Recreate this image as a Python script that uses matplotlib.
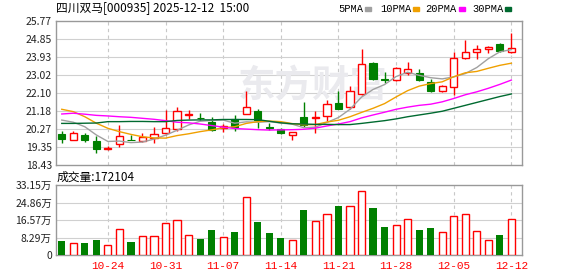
import numpy as np
import matplotlib
matplotlib.use("Agg")
import matplotlib.pyplot as plt

plt.rcParams['font.family'] = ['Noto Sans CJK SC', 'DejaVu Sans']

# --- data ---
title = "四川双马[000935] 2025-12-12  15:00"
date_pos = [4, 9, 14, 19, 24, 29, 34, 39]
date_labels = ["10-24", "10-31", "11-07", "11-14", "11-21", "11-28", "12-05", "12-12"]

opens = [19.99, 19.69, 19.96, 19.64, 19.27, 19.48, 19.70, 19.65, 19.80, 20.08,
         20.25, 21.00, 20.84, 20.64, 20.33, 20.76, 21.01, 21.18, 20.35, 20.25,
         19.94, 20.88, 20.85, 20.91, 21.59, 21.37, 22.03, 23.65, 22.80, 22.76,
         23.14, 23.12, 22.66, 22.20, 22.39, 23.90, 24.21, 24.33, 24.61, 24.17]
closes = [19.77, 20.08, 19.72, 19.26, 19.30, 19.89, 19.68, 19.87, 19.99, 20.30,
          21.16, 21.02, 20.82, 20.21, 20.40, 20.37, 21.37, 20.72, 20.33, 20.04,
          20.10, 20.47, 20.87, 21.52, 21.28, 22.20, 23.58, 22.83, 22.74, 23.36,
          23.31, 22.78, 22.19, 22.46, 23.87, 24.17, 24.33, 24.43, 24.22, 24.41]
highs = [20.16, 20.15, 20.08, 19.91, 19.38, 20.47, 19.96, 20.04, 20.37, 21.23,
         21.37, 21.23, 21.06, 20.86, 20.52, 20.98, 22.22, 21.30, 20.59, 20.33,
         20.10, 21.66, 21.18, 21.74, 22.20, 22.46, 24.34, 23.70, 23.19, 23.44,
         23.70, 23.32, 22.81, 22.53, 24.19, 24.80, 24.55, 24.50, 24.67, 25.18]
lows = [19.57, 19.69, 19.62, 19.04, 19.22, 19.35, 19.68, 19.58, 19.57, 19.96,
        20.18, 20.79, 20.72, 20.15, 20.13, 20.18, 21.01, 20.33, 20.23, 20.01,
        19.69, 20.38, 20.04, 20.69, 21.27, 21.28, 22.00, 22.78, 22.59, 22.73,
        23.02, 22.71, 22.13, 22.13, 22.00, 23.85, 23.85, 24.12, 24.19, 24.12]

ma5 = [20.72, 20.61, 20.38, 19.96, 19.63, 19.65, 19.57, 19.60, 19.75, 19.95,
       20.20, 20.47, 20.66, 20.70, 20.72, 20.56, 20.63, 20.61, 20.64, 20.57,
       20.51, 20.33, 20.36, 20.60, 20.85, 21.27, 21.89, 22.28, 22.53, 22.94,
       23.16, 23.00, 22.88, 22.82, 22.92, 23.09, 23.40, 23.85, 24.20, 24.31]
ma10 = [21.27, 21.15, 20.89, 20.56, 20.30, 20.13, 19.99, 19.87, 19.81, 19.80,
        19.93, 20.02, 20.13, 20.22, 20.33, 20.38, 20.55, 20.64, 20.67, 20.64,
        20.54, 20.48, 20.49, 20.62, 20.71, 20.89, 21.11, 21.32, 21.56, 21.90,
        22.22, 22.45, 22.58, 22.67, 22.93, 23.13, 23.20, 23.36, 23.51, 23.62]
ma20 = [21.03, 21.07, 21.02, 20.96, 20.93, 20.89, 20.86, 20.81, 20.76, 20.69,
        20.61, 20.58, 20.52, 20.44, 20.36, 20.29, 20.26, 20.23, 20.21, 20.22,
        20.23, 20.25, 20.31, 20.42, 20.52, 20.64, 20.83, 20.98, 21.12, 21.27,
        21.38, 21.47, 21.53, 21.65, 21.82, 22.01, 22.16, 22.34, 22.54, 22.76]
ma30 = [20.55, 20.55, 20.56, 20.57, 20.64, 20.64, 20.65, 20.65, 20.64, 20.64,
        20.70, 20.72, 20.73, 20.73, 20.75, 20.75, 20.75, 20.74, 20.66, 20.58,
        20.53, 20.52, 20.50, 20.50, 20.49, 20.49, 20.55, 20.62, 20.69, 20.78,
        20.89, 20.98, 21.07, 21.17, 21.32, 21.47, 21.62, 21.77, 21.92, 22.05]

# volume in 万 shares
volume = [6.8, 5.7, 5.9, 7.3, 4.6, 12.4, 6.3, 9.0, 9.0, 15.2,
          16.7, 9.5, 7.6, 11.9, 8.4, 10.9, 27.6, 15.7, 10.6, 8.1,
          7.1, 21.4, 16.2, 19.5, 23.3, 23.3, 30.3, 22.4, 13.3, 14.1,
          17.1, 11.9, 12.9, 10.9, 18.6, 19.5, 11.3, 7.1, 9.5, 17.21]

price_ticks = [18.43, 19.35, 20.27, 21.18, 22.10, 23.02, 23.93, 24.85, 25.77]
vol_ticks = [0, 8.29, 16.57, 24.86, 33.15]
vol_labels = ["0", "8.29万", "16.57万", "24.86万", "33.15万"]

RED = "#ff0000"
GREEN = "#008000"
ma_colors = ["#a0a0a0", "#f0a000", "#ff00ff", "#006a30"]
ma_names = ["5PMA", "10PMA", "20PMA", "30PMA"]

x = np.arange(len(opens))
opens = np.array(opens); closes = np.array(closes)
highs = np.array(highs); lows = np.array(lows)
up = closes >= opens

fig = plt.figure(figsize=(5.78, 2.76), dpi=100)
ax = fig.add_axes([56 / 578, 111 / 276, 466 / 578, 144 / 276])
axv = fig.add_axes([56 / 578, 21 / 276, 466 / 578, 69.7 / 276])

for a in (ax, axv):
    a.set_xlim(-0.5, 39.92)
    for s in a.spines.values():
        s.set_color("#999999")
        s.set_linewidth(1)
    a.tick_params(length=0, labelsize=7.5, colors="#222222", pad=3)
    for p in date_pos:
        a.axvline(p, color="#c8c8c8", lw=0.8, ls=(0, (3, 3)), zorder=0)

# price panel
ax.set_ylim(18.43, 25.77)
ax.set_yticks(price_ticks)
ax.set_yticklabels(["%.2f" % v for v in price_ticks])
ax.set_xticks([])
for v in price_ticks[1:-1]:
    ax.axhline(v, color="#d0d0d0", lw=0.8, zorder=0)

ax.text(15.3, 22.45, "东方财富", fontsize=27, color="#eaeaee",
        ha="left", va="center", fontweight="bold", zorder=0)

w = 0.62
ax.vlines(x, lows, highs, color=np.where(up, RED, GREEN), lw=1, zorder=3)
body_lo = np.minimum(opens, closes)
body_h = np.maximum(np.abs(closes - opens), 0.02)
ax.bar(x[up], body_h[up], w, bottom=body_lo[up], facecolor="white",
       edgecolor=RED, lw=1, zorder=4)
ax.bar(x[~up], body_h[~up], w, bottom=body_lo[~up], color=GREEN,
       edgecolor=GREEN, lw=0.8, zorder=4)

for ma, c in zip([ma5, ma10, ma20, ma30], ma_colors):
    ax.plot(x, ma, color=c, lw=1, zorder=5)

fig.text(56 / 578, 1 - 8 / 276, title, fontsize=8.5, va="center", ha="left")

# legend at top right
lx = [338, 380, 425, 472]
mk = [365, 413, 459, 505]
for px, m, name, c in zip(lx, mk, ma_names, ma_colors):
    fig.text(px / 578, 1 - 9 / 276, name, fontsize=7.5, va="center",
             ha="left", family="Liberation Mono")
    fig.patches.append(plt.Rectangle((m / 578, 1 - 11 / 276), 6 / 578, 4 / 276,
                                     transform=fig.transFigure, color=c))

# volume panel
axv.set_ylim(0, 33.15)
axv.set_yticks(vol_ticks)
axv.set_yticklabels(vol_labels)
for v in vol_ticks[1:-1]:
    axv.axhline(v, color="#d0d0d0", lw=0.8, zorder=0)
vol = np.array(volume)
axv.bar(x[up], vol[up], w, facecolor="white", edgecolor=RED, lw=1, zorder=3)
axv.bar(x[~up], vol[~up], w, color=GREEN, zorder=3)
axv.set_xticks(date_pos)
axv.set_xticklabels(date_labels, color=RED, fontsize=8, family="Liberation Mono")
axv.tick_params(axis="x", colors=RED, pad=4)

fig.text(57 / 578, 1 - 177 / 276, "成交量:172104", fontsize=8.5,
         va="center", ha="left")

fig.savefig("out.png", dpi=100)
